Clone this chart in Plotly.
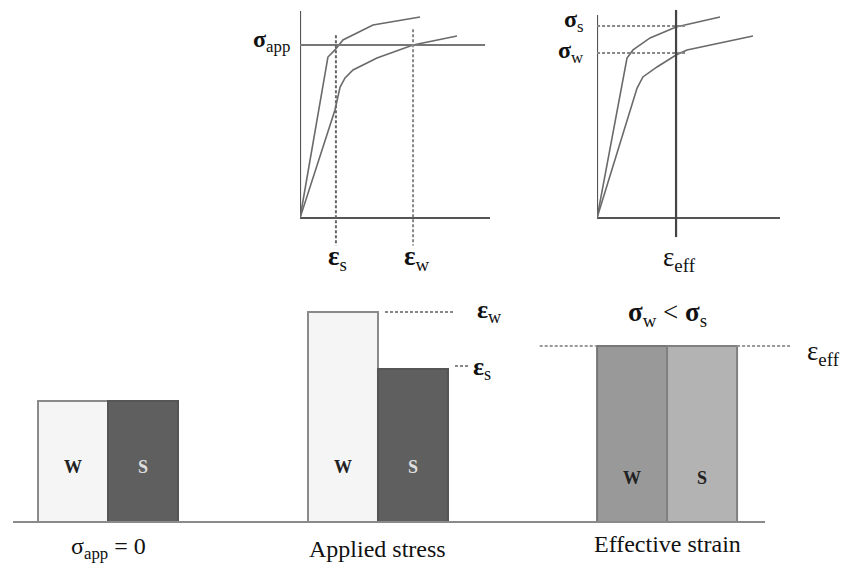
import plotly.graph_objects as go

# ---------------- data ----------------
# top-left stress-strain panel (strain, stress in arbitrary units)
s1_strain = [0, 1.47, 1.84, 2.26, 3.84, 6.32]
s1_stress = [0, 7.93, 8.28, 8.77, 9.51, 9.90]
w1_strain = [0, 1.84, 2.11, 2.37, 2.79, 4.05, 5.95, 8.26]
w1_stress = [0, 5.32, 6.45, 6.90, 7.29, 7.88, 8.52, 8.97]
sigma_app = 8.52
eps_s = 1.89
eps_w = 5.95

# top-right stress-strain panel
s2_strain = [0, 1.64, 1.97, 2.90, 4.32, 6.72]
s2_stress = [0, 7.88, 8.28, 8.87, 9.41, 9.90]
w2_strain = [0, 2.19, 2.51, 3.28, 4.32, 4.92, 8.52]
w2_stress = [0, 6.40, 6.95, 7.44, 8.03, 8.28, 8.97]
eps_eff = 4.32
sigma_s = 9.46
sigma_w = 8.13

# bottom bars (strain of each element)
bar_pos = [1.043, 2.043, 4.9, 5.9, 9.03, 10.03]
bar_strain = [1.0, 1.0, 1.736, 1.264, 1.455, 1.455]
bar_names = ["W", "S", "W", "S", "W", "S"]
bar_fill = ["#f5f5f5", "#5f5f5f", "#f5f5f5", "#5f5f5f", "#999999", "#b3b3b3"]
bar_edge = ["#8a8a8a", "#555555", "#8a8a8a", "#555555", "#777777", "#808080"]
group_labels = ["σ<sub>app</sub> = 0", "Applied stress", "Effective strain"]

SERIF = "Liberation Serif"
GREY = "#6a6a6a"
W, H = 853, 567

AX = {
    "x": dict(domain=[300 / W, 490 / W], range=[0, 10]),
    "y": dict(domain=[1 - 248 / H, 1 - 5 / H], range=[-1.478, 10.493]),
    "x2": dict(domain=[597 / W, 780 / W], range=[0, 10]),
    "y2": dict(domain=[1 - 248 / H, 1 - 5 / H], range=[-1.478, 10.493]),
    "x3": dict(domain=[0, 1], range=[0, 12.186]),
    "y3": dict(domain=[0, 287 / H], range=[-0.372, 2.0]),
}

def to_paper(v, ax):
    d0, d1 = AX[ax]["domain"]
    r0, r1 = AX[ax]["range"]
    return d0 + (v - r0) / (r1 - r0) * (d1 - d0)

fig = go.Figure()

def line(x, y, xa, ya, color=GREY, width=1.6, dash="solid"):
    fig.add_trace(go.Scatter(x=x, y=y, xaxis=xa, yaxis=ya, mode="lines",
                             line=dict(color=color, width=width, dash=dash),
                             hoverinfo="skip", showlegend=False))

# ---- panel 1 ----
line([0, 10], [0, 0], "x", "y", "#555555", 2.2)
line([0, 0], [0, 10.2], "x", "y", "#555555", 2.2)
line(s1_strain, s1_stress, "x", "y")
line(w1_strain, w1_stress, "x", "y")
line([0, 9.74], [sigma_app, sigma_app], "x", "y", "#777777", 2)
line([eps_s, eps_s], [9.0, -1.35], "x", "y", "#666666", 2, "3px,2px")
line([eps_w, eps_w], [9.3, -1.35], "x", "y", "#888888", 2, "3px,2px")

# ---- panel 2 ----
line([0, 10], [0, 0], "x2", "y2", "#555555", 2.2)
line([0, 0], [0, 10.0], "x2", "y2", "#555555", 2.2)
line(s2_strain, s2_stress, "x2", "y2")
line(w2_strain, w2_stress, "x2", "y2")
line([-0.27, 4.81], [sigma_s, sigma_s], "x2", "y2", "#888888", 2, "3px,2px")
line([-0.27, 4.81], [sigma_w, sigma_w], "x2", "y2", "#888888", 2, "3px,2px")
line([eps_eff, eps_eff], [10.25, -0.94], "x2", "y2", "#444444", 2.2)

# ---- bars ----
line([0.186, 10.93], [0, 0], "x3", "y3", "#8a8a8a", 2.2)
fig.add_trace(go.Bar(x=bar_pos, y=bar_strain, width=[1.0] * 6, xaxis="x3", yaxis="y3",
                     marker=dict(color=bar_fill, line=dict(color=bar_edge, width=2)),
                     hoverinfo="skip", showlegend=False))
line([5.5, 6.5], [1.736, 1.736], "x3", "y3", "#888888", 2, "3px,2px")
line([6.5, 6.71], [1.29, 1.29], "x3", "y3", "#888888", 2, "3px,2px")
line([7.71, 8.51], [1.455, 1.455], "x3", "y3", "#999999", 2, "3px,2px")
line([10.53, 11.29], [1.455, 1.455], "x3", "y3", "#999999", 2, "3px,2px")

ann = []
def text(x, y, t, xa, ya, size, color="#111111", xanchor="center"):
    ann.append(dict(x=to_paper(x, xa), y=to_paper(y, ya), xref="paper", yref="paper",
                    text=t, showarrow=False, xanchor=xanchor, yanchor="middle",
                    font=dict(family=SERIF, size=size, color=color)))

# panel labels
text(-0.4, sigma_app + 0.2, "<b>σ</b><sub>app</sub>", "x", "y", 24, xanchor="right")
text(eps_s + 0.1, -1.95, "<b>ε</b><sub>s</sub>", "x", "y", 27)
text(eps_w + 0.2, -1.95, "<b>ε</b><sub>w</sub>", "x", "y", 27)
text(-0.6, sigma_s + 0.25, "<b>σ</b><sub>s</sub>", "x2", "y2", 24, xanchor="right")
text(-0.6, sigma_w + 0.05, "<b>σ</b><sub>w</sub>", "x2", "y2", 24, xanchor="right")
text(eps_eff + 0.2, -2.0, "ε<sub>eff</sub>", "x2", "y2", 27)

# bar letters
letter_y = [0.455, 0.455, 0.455, 0.455, 0.364, 0.364]
letter_c = ["#222222", "#dddddd", "#222222", "#dddddd", "#222222", "#222222"]
for px, ly, nm, c in zip(bar_pos, letter_y, bar_names, letter_c):
    text(px, ly, "<b>" + nm + "</b>", "x3", "y3", 18, c)

text(6.78, 1.744, "<b>ε</b><sub>w</sub>", "x3", "y3", 26, xanchor="left")
text(6.73, 1.27, "<b>ε</b><sub>s</sub>", "x3", "y3", 26, xanchor="left")
text(11.5, 1.40, "ε<sub>eff</sub>", "x3", "y3", 27, xanchor="left")
text(9.53, 1.72, "<b>σ</b><sub>w</sub> &lt; <b>σ</b><sub>s</sub>", "x3", "y3", 27)

group_x = [1.543, 5.4, 9.53]
group_y = [-0.215, -0.22, -0.18]
for gx, gy, gl in zip(group_x, group_y, group_labels):
    text(gx, gy, gl, "x3", "y3", 24)

hidden = dict(visible=False, showgrid=False, zeroline=False, fixedrange=True)
fig.update_layout(
    width=W, height=H,
    margin=dict(l=0, r=0, t=0, b=0),
    paper_bgcolor="white", plot_bgcolor="white",
    showlegend=False,
    xaxis=dict(**AX["x"], **hidden),
    yaxis=dict(**AX["y"], **hidden),
    xaxis2=dict(**AX["x2"], **hidden),
    yaxis2=dict(**AX["y2"], **hidden),
    xaxis3=dict(**AX["x3"], **hidden),
    yaxis3=dict(**AX["y3"], **hidden),
    annotations=ann,
)
fig.write_html("out.html", config={"displayModeBar": False},
               post_script="document.body.style.margin='0';")
